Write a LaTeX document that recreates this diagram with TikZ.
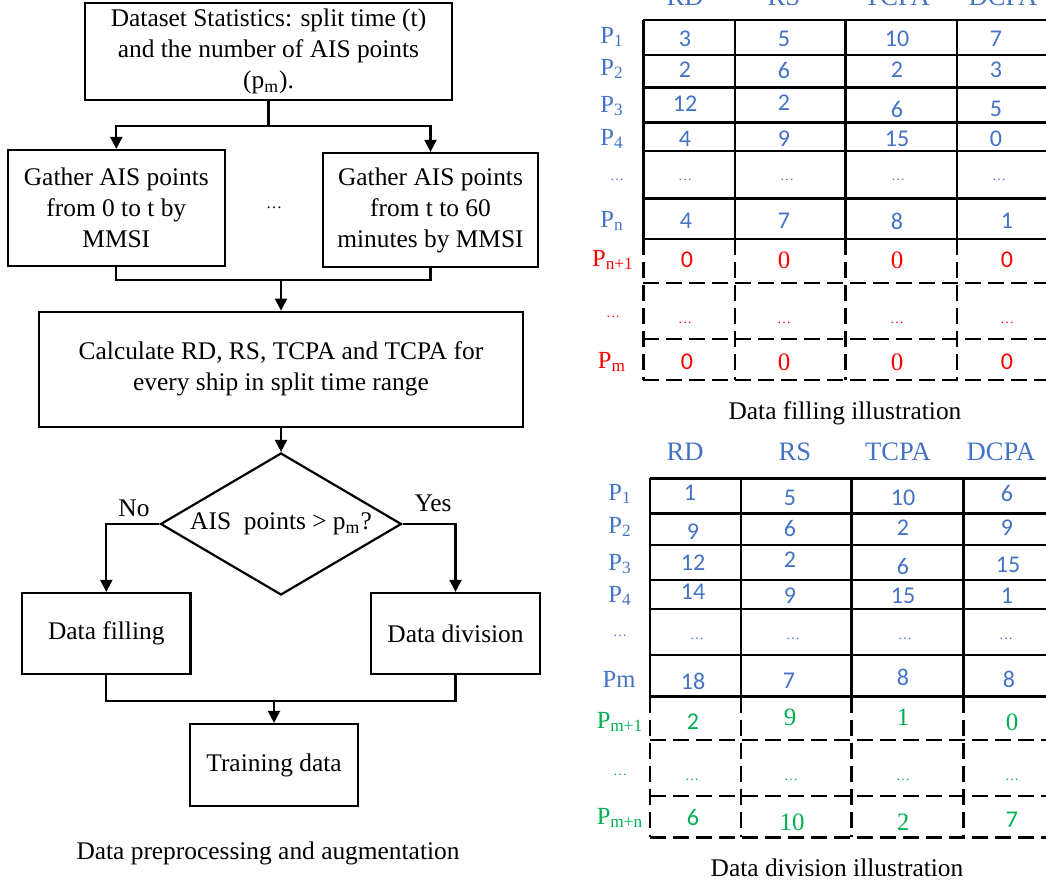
\documentclass[tikz,border=0pt]{standalone}
\usepackage{fontspec}
\setmainfont{Liberation Serif}
\newfontfamily\carlito{Carlito}
\usetikzlibrary{positioning,arrows.meta,shapes.geometric}
\definecolor{cblue}{HTML}{4472C4}
\definecolor{cred}{HTML}{FF0000}
\definecolor{cgreen}{HTML}{00B050}
\newcommand{\flowfont}{\fontsize{12.7}{15.5}\selectfont}
\newcommand{\numfont}{\carlito\fontsize{12}{14}\selectfont}
\newcommand{\serfont}{\fontsize{12.5}{14}\selectfont}
\newcommand{\lblfont}{\fontsize{12.3}{14}\selectfont}
\newcommand{\hdrfont}{\fontsize{13.3}{15}\selectfont}
\newcommand{\ellifont}{\fontsize{7}{8}\selectfont}
\tikzset{
  box/.style={rectangle, draw=black, line width=1.1pt, align=center,
              font=\flowfont, inner sep=0pt},
  decision/.style={diamond, draw=black, line width=1.1pt, aspect=1.7,
              inner sep=0pt, font=\flowfont},
  flow/.style={-{Triangle[length=6pt,width=6pt]}, line width=1.1pt},
  link/.style={line width=1.1pt},
  tline/.style={line width=1.3pt},
  tdash/.style={line width=1.3pt, dash pattern=on 8pt off 3.5pt},
  num/.style={font=\numfont, inner sep=0pt},
  snum/.style={font=\serfont, inner sep=0pt},
  lbl/.style={font=\lblfont, inner sep=0pt},
  hdr/.style={font=\hdrfont, text=cblue, inner sep=0pt},
  elli/.style={font=\ellifont, inner sep=0pt},
  capt/.style={font=\flowfont, inner sep=0pt}
}
\begin{document}
\begin{tikzpicture}[x=0.5pt, y=-0.5pt]
\useasboundingbox (0,0) rectangle (1046,884);
\clip (0,0) rectangle (1046,884);
% flowchart
\node[box, minimum width=183.5pt, minimum height=48.5pt] (stats) at (268.5,51.5) {Dataset Statistics: split time (t)\\and the number of AIS points\\(p\textsubscript{m}).};
\node[box, minimum width=108.3pt, minimum height=58pt] (gatherA) at (116.3,208) {Gather AIS points\\from 0 to t by\\MMSI};
\node[box, minimum width=107.8pt, minimum height=57pt] (gatherB) at (430.5,210) {Gather AIS points\\from t to 60\\minutes by MMSI};
\node[elli, font=\fontsize{8}{9}\selectfont] (gdots) at (274,208) {…};
\node[box, minimum width=242.3pt, minimum height=57.5pt] (calc) at (281,369.2) {Calculate RD, RS, TCPA and TCPA for\\every ship in split time range};
\node[decision, minimum width=120.5pt, minimum height=71pt] (decide) at (281,524) {AIS\ \ points > p\textsubscript{m}?};
\node[box, minimum width=84.2pt, minimum height=40.5pt] (fill) at (106.3,633.5) {Data filling};
\node[box, minimum width=84.5pt, minimum height=40.5pt] (divide) at (455.5,633.5) {Data division};
\node[box, minimum width=84pt, minimum height=41pt] (train) at (274,765) {Training data};
\node[capt] (no) at (134,508) {No};
\node[capt] (yes) at (433,503) {Yes};
\node[capt] (cap1) at (268,853) {Data preprocessing and augmentation};
\coordinate (j1) at (268.5,126);
\coordinate (j2) at (281,280);
\coordinate (j3) at (274,701);
\draw[link] (stats) -- (j1);
\draw[flow] (j1) -| (gatherA);
\draw[flow] (j1) -| (gatherB);
\draw[link] (gatherA) |- (j2) -| (gatherB);
\draw[flow] (j2) -- (calc);
\draw[flow] (calc) -- (decide);
\draw[flow] (decide.west) -| (fill);
\draw[flow] (decide.east) -| (divide);
\draw[link] (fill) |- (j3) -| (divide);
\draw[flow] (j3) -- (train);
% data filling table
\foreach \y in {20,55,87.3,122.3,151,198.3,239} \draw[tline] (643.3,\y) -- (1046,\y);
\foreach \x in {643.3,735,845.7,957} \draw[tline] (\x,20) -- (\x,239);
\foreach \x in {643.3,735,845.7,957} \draw[tdash] (\x,239) -- (\x,380);
\foreach \y in {283,339,380} \draw[tdash] (643.3,\y) -- (1046,\y);
\foreach \x/\t [count=\i] in {685/RD,784/RS,897/TCPA,1003/DCPA} \node[hdr] (th\i) at (\x,-3) {\t};
\foreach \y/\t [count=\i] in {37/1,69/2,106/3,139/4,221/n} \node[lbl, text=cblue] (tl\i) at (612,\y) {P\textsubscript{\t}};
\node[elli, text=cblue] (tldots) at (617,180) {…};
\node[lbl, text=cred] (tl6) at (613,260) {P\textsubscript{n+1}};
\node[elli, text=cred] (tlrdots) at (613,317) {…};
\node[lbl, text=cred] (tl7) at (612,362) {P\textsubscript{m}};
\foreach \x/\y/\v [count=\i] in {685/39/3, 784/39/5, 897/39/10, 996/39/7,
    685/70/2, 784/70/6, 897/70/2, 996/70/3,
    685/104/12, 784/103/2, 897/109/6, 996/109/5,
    685/139/4, 784/139/9, 897/139/15, 996/139/0,
    686/221/4, 784/221/7, 897/221/8, 1007/221/1}
  \node[num, text=cblue] (ta\i) at (\x,\y) {\v};
\foreach \x [count=\i] in {685,787,898,999} \node[elli, text=cblue] (tad\i) at (\x,180) {…};
\foreach \x/\y [count=\i] in {687/260, 1007/260, 687/362, 1007/362} \node[num, text=cred] (tr\i) at (\x,\y) {0};
\foreach \x/\y [count=\i] in {784/260, 897/260, 784/362, 897/362} \node[snum, text=cred] (ts\i) at (\x,\y) {0};
\foreach \x [count=\i] in {685,784,897,1007} \node[elli, text=cred] (trd\i) at (\x,323) {…};
\node[capt] (cap2) at (845,413) {Data filling illustration};
% data division table
\foreach \y in {478.3,513.3,545,580,609,655,696.7} \draw[tline] (650,\y) -- (1046,\y);
\foreach \x in {650,741,851.7,963.3} \draw[tline] (\x,478.3) -- (\x,696.7);
\foreach \x in {650,741,851.7,963.3} \draw[tdash] (\x,696.7) -- (\x,837.3);
\foreach \y in {740,796,837.3} \draw[tdash] (650,\y) -- (1046,\y);
\foreach \x/\t [count=\i] in {685/RD,795/RS,898/TCPA,1001/DCPA} \node[hdr] (bh\i) at (\x,452) {\t};
\foreach \y/\t [count=\i] in {494/1,527/2,564/3,596/4} \node[lbl, text=cblue] (bl\i) at (620,\y) {P\textsubscript{\t}};
\node[elli, text=cblue] (bldots) at (620,636) {…};
\node[lbl, text=cblue] (bl5) at (619,679) {Pm};
\node[lbl, text=cgreen] (bl6) at (620,722) {P\textsubscript{m+1}};
\node[elli, text=cgreen] (blgdots) at (620,775) {…};
\node[lbl, text=cgreen] (bl7) at (620,818) {P\textsubscript{m+n}};
\foreach \x/\y/\v [count=\i] in {690/493/1, 790/498/5, 903/498/10, 1007/493/6,
    693/532/9, 790/528/6, 903/528/2, 1007/528/9,
    693/563/12, 790/560/2, 903/566/6, 1008/565/15,
    693/592/14, 790/596/9, 903/596/15, 1007/596/1,
    693/681/18, 789/681/7, 903/677/8, 1009/679/8}
  \node[num, text=cblue] (ba\i) at (\x,\y) {\v};
\foreach \x [count=\i] in {697,793,905,1006} \node[elli, text=cblue] (bad\i) at (\x,639) {…};
\foreach \x/\y/\v [count=\i] in {693/722/2, 693/817/6, 1012/820/7} \node[num, text=cgreen] (bg\i) at (\x,\y) {\v};
\foreach \x/\y/\v [count=\i] in {790/717/9, 903/717/1, 1012/722/0, 792/822/10, 903/822/2} \node[snum, text=cgreen] (bs\i) at (\x,\y) {\v};
\foreach \x [count=\i] in {692,791,903,1012} \node[elli, text=cgreen] (bgd\i) at (\x,780) {…};
\node[capt] (cap3) at (837,868) {Data division illustration};
\end{tikzpicture}
\end{document}
